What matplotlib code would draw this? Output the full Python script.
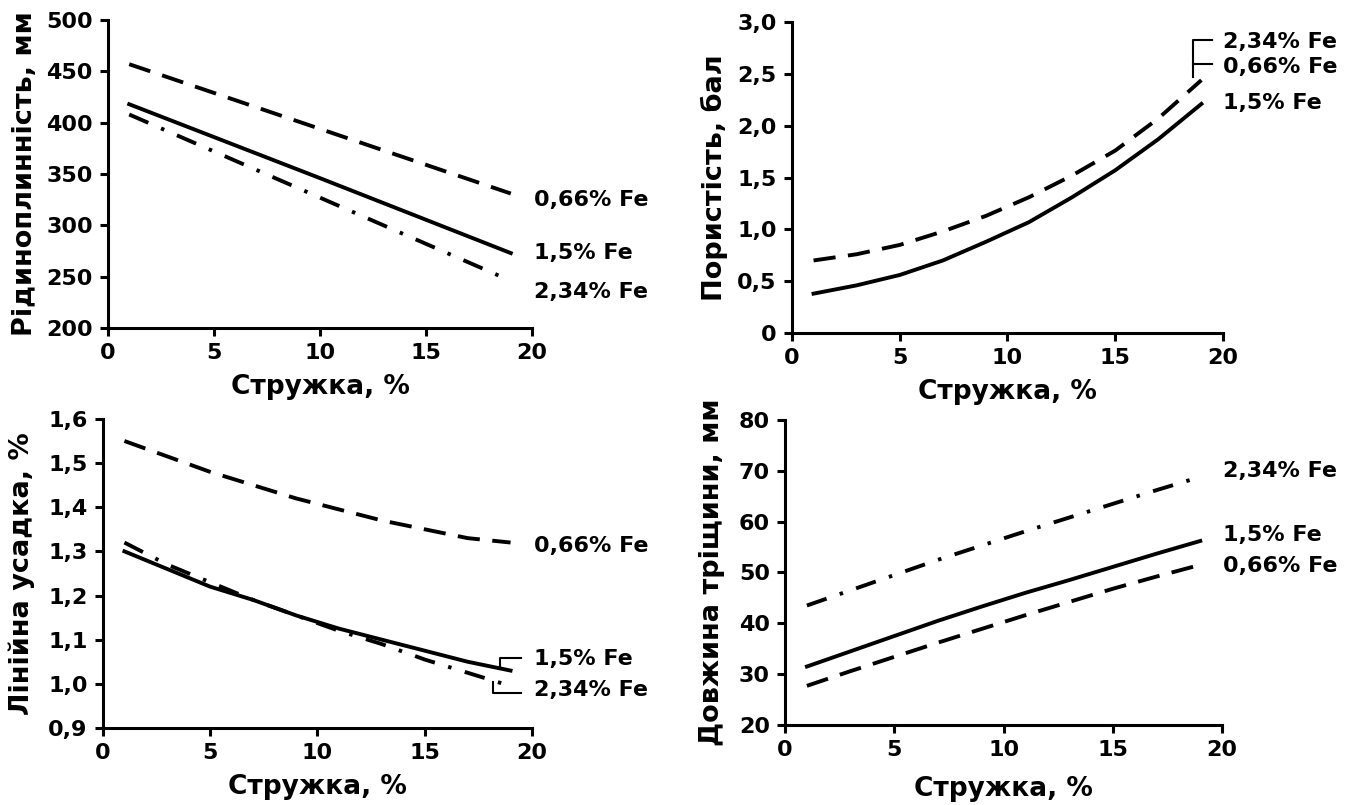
import matplotlib
matplotlib.use("Agg")
import matplotlib.pyplot as plt

plt.rcParams['font.family'] = ['DejaVu Sans']
plt.rcParams['font.weight'] = 'bold'
plt.rcParams['lines.scale_dashes'] = False

# data
x3 = [1, 10, 19]
x10 = [1, 3, 5, 7, 9, 11, 13, 15, 17, 19]

fluid_066 = [457, 394, 331]
fluid_15 = [418, 346, 273]
fluid_234 = [408, 327, 246]

por_066 = [0.70, 0.76, 0.85, 0.98, 1.13, 1.31, 1.52, 1.76, 2.07, 2.44]
por_15 = [0.38, 0.46, 0.56, 0.70, 0.88, 1.07, 1.31, 1.57, 1.87, 2.21]

shr_066 = [1.55, 1.515, 1.48, 1.45, 1.42, 1.395, 1.37, 1.35, 1.33, 1.32]
shr_15 = [1.30, 1.26, 1.22, 1.19, 1.155, 1.125, 1.10, 1.075, 1.05, 1.03]
shr_234 = [1.32, 1.27, 1.23, 1.19, 1.155, 1.12, 1.09, 1.055, 1.025, 0.995]

crk_066 = [27.7, 30.6, 33.4, 36.2, 38.9, 41.6, 44.2, 46.8, 49.2, 51.5]
crk_15 = [31.5, 34.5, 37.5, 40.5, 43.3, 46.0, 48.5, 51.1, 53.7, 56.2]
crk_234 = [43.5, 46.5, 49.5, 52.5, 55.3, 58.1, 60.8, 63.5, 66.2, 68.8]

xticks = [0, 5, 10, 15, 20]
xlabel = "Стружка, %"

DASH = (0, (16, 9))
DASHDOT = (0, (15, 10, 2.5, 10))
LW = 2.8

fig = plt.figure(figsize=(13.62, 8.05), dpi=100)
ax1 = fig.add_axes([0.0793, 0.5925, 0.3113, 0.3826])
ax2 = fig.add_axes([0.5815, 0.5863, 0.3164, 0.3863])
ax3 = fig.add_axes([0.0756, 0.0957, 0.3150, 0.3839])
ax4 = fig.add_axes([0.5764, 0.0994, 0.3209, 0.3789])


def style(ax, yt, ylabels, ylabel, ylx, xly):
    for s in ("top", "right"):
        ax.spines[s].set_visible(False)
    for s in ("left", "bottom"):
        ax.spines[s].set_linewidth(2.2)
    ax.set_xlim(0, 20)
    ax.set_ylim(yt[0], yt[-1])
    ax.set_xticks(xticks)
    ax.set_xticklabels([str(t) for t in xticks])
    ax.set_yticks(yt)
    ax.set_yticklabels(ylabels)
    ax.tick_params(direction="out", length=6, width=2.2, labelsize=16, pad=5)
    ax.set_xlabel(xlabel, fontsize=19, fontweight="bold", va="center")
    ax.xaxis.set_label_coords(0.5, xly)
    ax.set_ylabel(ylabel, fontsize=19.5, fontweight="bold", va="center")
    ax.yaxis.set_label_coords(ylx, 0.5)


def label(ax, x, y, s):
    ax.text(x, y, s, fontsize=16, fontweight="bold", va="center", ha="left", clip_on=False)


def bracket(ax, xs, ys):
    ax.plot(xs, ys, color="black", lw=1.5, clip_on=False)


# panel 1
ax1.plot(x3, fluid_066, color="black", lw=LW, linestyle=DASH)
ax1.plot(x3, fluid_15, color="black", lw=LW)
ax1.plot(x3, fluid_234, color="black", lw=LW, linestyle=DASHDOT)
style(ax1, [200, 250, 300, 350, 400, 450, 500],
      ["200", "250", "300", "350", "400", "450", "500"],
      "Рідиноплинність, мм", -0.196, -0.19)
label(ax1, 20.1, 325, "0,66% Fe")
label(ax1, 20.1, 273, "1,5% Fe")
label(ax1, 20.1, 235, "2,34% Fe")

# panel 2
ax2.plot(x10, por_066, color="black", lw=LW, linestyle=DASH)
ax2.plot(x10, por_15, color="black", lw=LW)
style(ax2, [0, 0.5, 1.0, 1.5, 2.0, 2.5, 3.0],
      ["0", "0,5", "1,0", "1,5", "2,0", "2,5", "3,0"],
      "Пористість, бал", -0.179, -0.19)
bracket(ax2, [19.5, 18.6, 18.6], [2.83, 2.83, 2.47])
bracket(ax2, [18.6, 19.5], [2.60, 2.60])
label(ax2, 20.0, 2.81, "2,34% Fe")
label(ax2, 20.0, 2.57, "0,66% Fe")
label(ax2, 20.0, 2.22, "1,5% Fe")

# panel 3
ax3.plot(x10, shr_066, color="black", lw=LW, linestyle=DASH)
ax3.plot(x10, shr_15, color="black", lw=LW)
ax3.plot(x10, shr_234, color="black", lw=LW, linestyle=DASHDOT)
style(ax3, [0.9, 1.0, 1.1, 1.2, 1.3, 1.4, 1.5, 1.6],
      ["0,9", "1,0", "1,1", "1,2", "1,3", "1,4", "1,5", "1,6"],
      "Лінійна усадка, %", -0.189, -0.19)
bracket(ax3, [19.5, 18.5, 18.5], [1.059, 1.059, 1.037])
bracket(ax3, [19.5, 18.2, 18.2], [0.980, 0.980, 1.003])
label(ax3, 20.1, 1.313, "0,66% Fe")
label(ax3, 20.1, 1.057, "1,5% Fe")
label(ax3, 20.1, 0.985, "2,34% Fe")

# panel 4
ax4.plot(x10, crk_066, color="black", lw=LW, linestyle=DASH)
ax4.plot(x10, crk_15, color="black", lw=LW)
ax4.plot(x10, crk_234, color="black", lw=LW, linestyle=DASHDOT)
style(ax4, [20, 30, 40, 50, 60, 70, 80],
      ["20", "30", "40", "50", "60", "70", "80"],
      "Довжина тріщини, мм", -0.167, -0.21)
label(ax4, 20.05, 70.0, "2,34% Fe")
label(ax4, 20.05, 57.4, "1,5% Fe")
label(ax4, 20.05, 51.3, "0,66% Fe")

fig.savefig("out.png", dpi=100)
